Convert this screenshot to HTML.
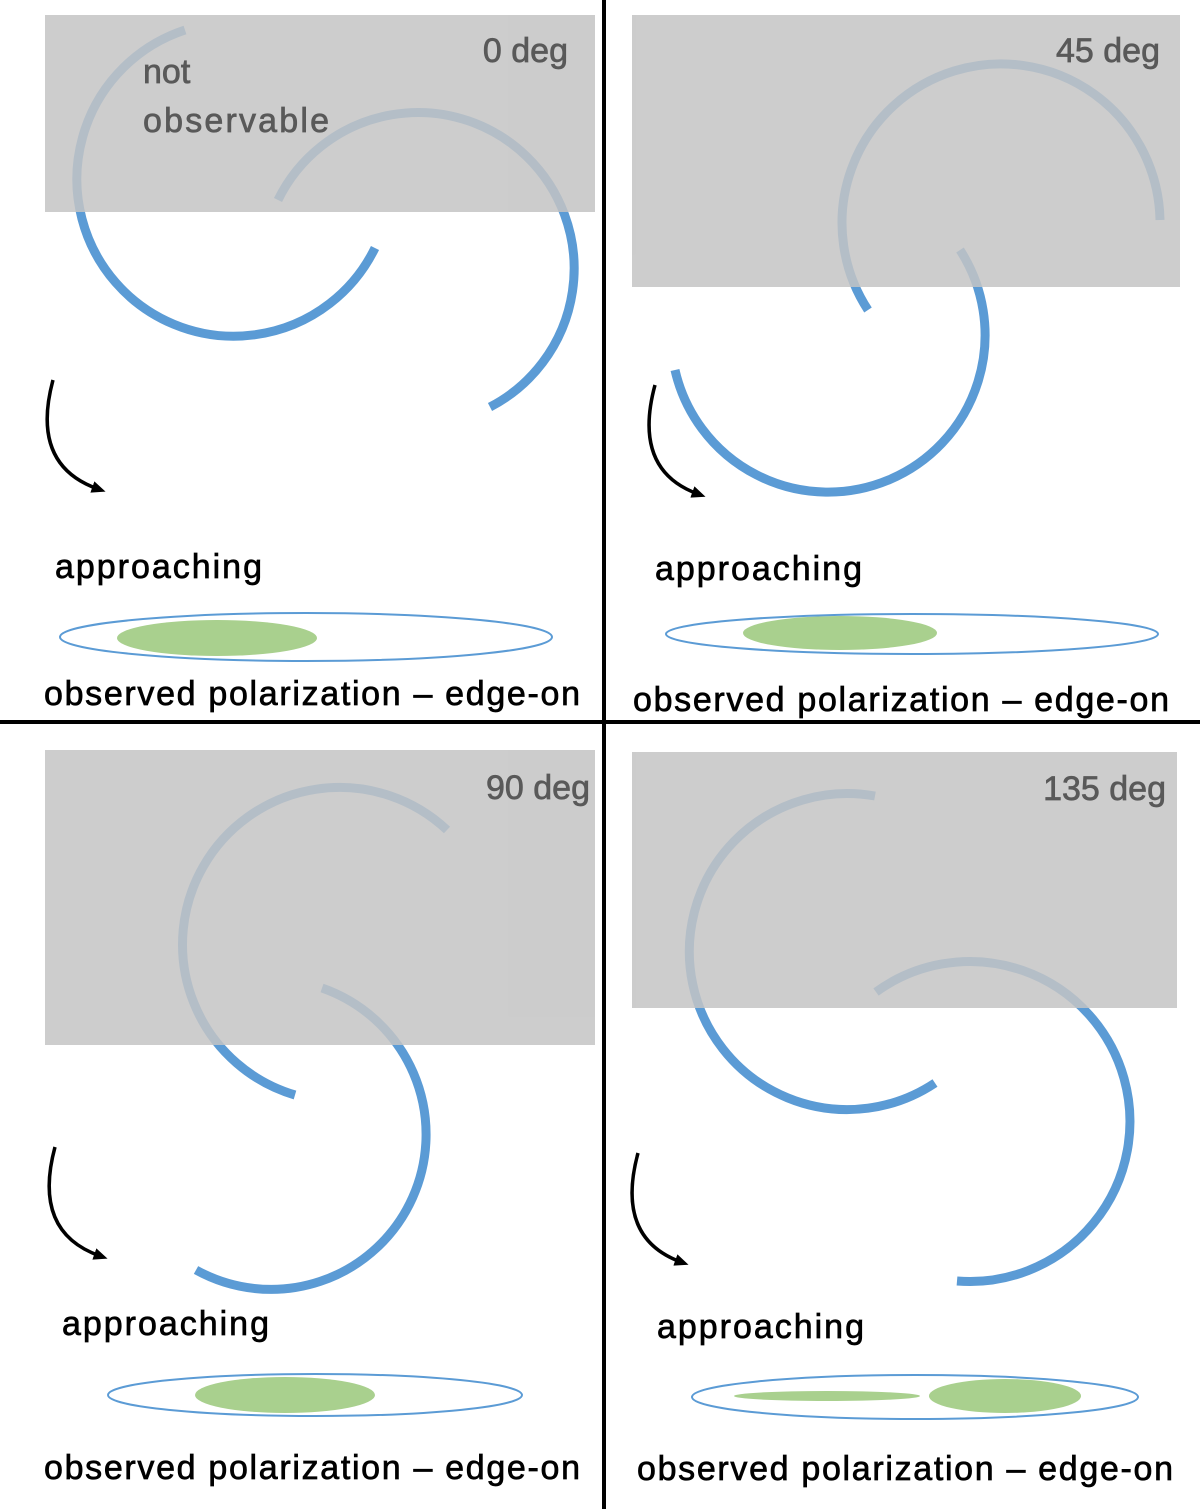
<!DOCTYPE html>
<html><head><meta charset="utf-8"><style>html,body{margin:0;padding:0;background:#fff}svg{display:block}</style></head>
<body>
<svg width="1200" height="1509" viewBox="0 0 1200 1509" xmlns="http://www.w3.org/2000/svg" font-family="'Liberation Sans', sans-serif">
<defs>
<marker id="ah" markerWidth="14" markerHeight="12" refX="6" refY="6" orient="auto" markerUnits="userSpaceOnUse"><path d="M0,0 L14,6 L0,12 Z" fill="#000"/></marker>
</defs>
<g fill="none" stroke="#5b9bd5" stroke-width="9">
<path d="M185,30 A157 157 0 1 0 375,248"/>
<path d="M278,200 A156 156 0 1 1 490,407"/>
<path d="M868,310 A159 159 0 1 1 1160,220"/>
<path d="M960,250 A157 157 0 1 1 675,370"/>
<path d="M447,830 A157 157 0 1 0 295,1095"/>
<path d="M322,988 A155 155 0 1 1 196,1270"/>
<path d="M875,796 A158 158 0 1 0 935,1083"/>
<path d="M876,992 A160 160 0 1 1 957,1281"/>
</g>
<g fill="#c4c4c4" opacity="0.85">
<rect x="45" y="15" width="550" height="197"/>
<rect x="632" y="15" width="548" height="272"/>
<rect x="45" y="750" width="550" height="295"/>
<rect x="632" y="752" width="545" height="256"/>
</g>
<g fill="#595959" stroke="#595959" stroke-width="0.7" font-size="34">
<text x="568" y="62" text-anchor="end">0 deg</text>
<text x="1160" y="62" text-anchor="end">45 deg</text>
<text x="590" y="799" text-anchor="end">90 deg</text>
<text x="1166" y="800" text-anchor="end">135 deg</text>
<text x="143" y="83">not</text>
<text x="143" y="132" textLength="186">observable</text>
</g>
<line x1="604" y1="0" x2="604" y2="1509" stroke="#000" stroke-width="4"/>
<line x1="0" y1="722" x2="1200" y2="722" stroke="#000" stroke-width="4"/>
<g fill="none" stroke="#000" stroke-width="3.5" marker-end="url(#ah)">
<path d="M53,380 Q30,465 98,489"/>
<path d="M655,385 Q632,470 698,494"/>
<path d="M55,1147 Q32,1232 100,1256"/>
<path d="M638,1153 Q615,1238 681,1262"/>
</g>
<g fill="#000" stroke="#000" stroke-width="0.7" font-size="34">
<text x="55" y="578" textLength="207">approaching</text>
<text x="655" y="580" textLength="207">approaching</text>
<text x="62" y="1335" textLength="207">approaching</text>
<text x="657" y="1338" textLength="207">approaching</text>
<text x="44" y="705" textLength="536">observed polarization – edge-on</text>
<text x="633" y="711" textLength="536">observed polarization – edge-on</text>
<text x="44" y="1479" textLength="536">observed polarization – edge-on</text>
<text x="637" y="1480" textLength="536">observed polarization – edge-on</text>
</g>
<g fill="#a9d08e">
<ellipse cx="217" cy="638" rx="100" ry="18"/>
<ellipse cx="840" cy="633" rx="97" ry="17"/>
<ellipse cx="285" cy="1395" rx="90" ry="18"/>
<ellipse cx="827" cy="1396" rx="93" ry="5"/>
<ellipse cx="1005" cy="1396" rx="76" ry="17"/>
</g>
<g fill="none" stroke="#5b9bd5" stroke-width="2">
<ellipse cx="306" cy="637" rx="246" ry="24"/>
<ellipse cx="912" cy="634" rx="246" ry="20"/>
<ellipse cx="315" cy="1395" rx="207" ry="21"/>
<ellipse cx="915" cy="1397" rx="223" ry="22"/>
</g>
</svg>
</body></html>
